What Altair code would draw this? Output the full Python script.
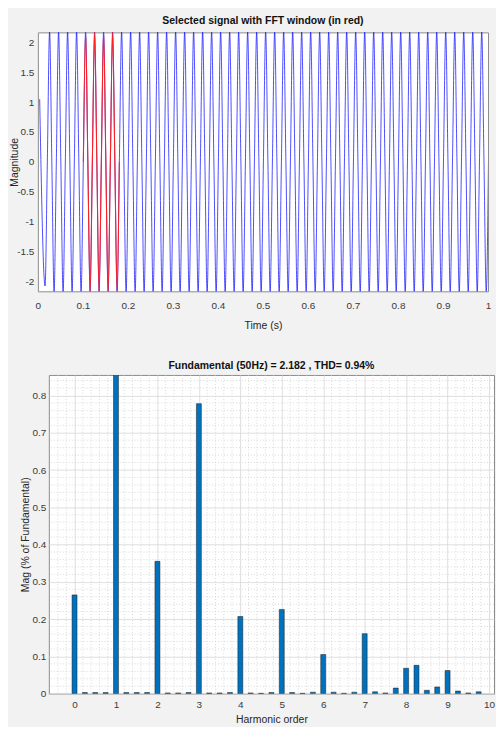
import altair as alt
import pandas as pd

FONT = "Liberation Sans, Arial, sans-serif"

# ---------------- data ----------------
# top panel: 50 Hz signal, amplitude 2.182
SIG_START_T = 0.004
SIG_START_V = 1.05
FIRST_TROUGH_T = 0.016
FIRST_TROUGH_V = -2.08
CYCLE_START_T = 0.021          # first rising zero crossing after the initial trough
QUARTER_PERIOD = 0.005
CYCLE_SHAPE = [0.0, 2.182, 0.0, -2.182]   # zero, peak, zero, trough
N_CYCLES = 49
SIG_END_T = 1.001
WINDOW_START = 0.10
WINDOW_END = 0.182

TIME_TICKS = [0, 0.1, 0.2, 0.3, 0.4, 0.5, 0.6, 0.7, 0.8, 0.9, 1]
MAG_TICKS = [-2, -1.5, -1, -0.5, 0, 0.5, 1, 1.5, 2]

# bottom panel: harmonic spectrum (% of fundamental)
HARM_ORDER = [0, 0.25, 0.5, 0.75, 1, 1.25, 1.5, 1.75, 2, 2.25, 2.5, 2.75,
              3, 3.25, 3.5, 3.75, 4, 4.25, 4.5, 4.75, 5, 5.25, 5.5, 5.75,
              6, 6.25, 6.5, 6.75, 7, 7.25, 7.5, 7.75, 8, 8.25, 8.5, 8.75,
              9, 9.25, 9.5, 9.75]
HARM_MAG = [0.265, 0.003, 0.003, 0.003, 100.0, 0.003, 0.003, 0.003,
            0.355, 0.002, 0.002, 0.003, 0.778, 0.002, 0.002, 0.003,
            0.207, 0.002, 0.001, 0.003, 0.226, 0.003, 0.001, 0.004,
            0.105, 0.004, 0.001, 0.004, 0.161, 0.005, 0.002, 0.015,
            0.068, 0.076, 0.009, 0.018, 0.062, 0.007, 0.002, 0.005]
HARM_TICKS = [0, 1, 2, 3, 4, 5, 6, 7, 8, 9, 10]
PCT_TICKS = [0, 0.1, 0.2, 0.3, 0.4, 0.5, 0.6, 0.7, 0.8]

TITLE_TOP = "Selected signal with FFT window (in red)"
TITLE_BOTTOM = "Fundamental (50Hz) = 2.182 , THD= 0.94%"

# ---------------- tables ----------------
t_vals = [SIG_START_T, FIRST_TROUGH_T]
v_vals = [SIG_START_V, FIRST_TROUGH_V]
k = 0
for c in range(N_CYCLES):
    for s in CYCLE_SHAPE:
        t_vals.append(round(CYCLE_START_T + k * QUARTER_PERIOD, 4))
        v_vals.append(s)
        k += 1
t_vals.append(SIG_END_T)
v_vals.append(0.0)
sig_df = pd.DataFrame({"t": t_vals, "v": v_vals})
win_df = sig_df[(sig_df.t >= WINDOW_START) & (sig_df.t <= WINDOW_END)]

harm_df = pd.DataFrame({"h": HARM_ORDER, "m": HARM_MAG})
minor_x = pd.DataFrame({"h": [round(i * 0.2, 2) for i in range(-2, 50) if i % 5 != 0]})
minor_y = pd.DataFrame({"m": [round(i * 0.02, 3) for i in range(1, 43) if i % 5 != 0]})

common = dict(labelFont=FONT, titleFont=FONT, labelColor="#3a3a3a", titleColor="#262626",
              labelFontSize=10, titleFontSize=10.5, titleFontWeight="normal",
              ticks=False, tickSize=0, domain=False,
              labelOverlap=False, labelExpr="'' + datum.value")

TOP_H = 260
BOT_H = 320

# ---------------- top panel ----------------
x_top = alt.X("t:Q", scale=alt.Scale(domain=[0, 1], nice=False, zero=False),
              axis=alt.Axis(values=TIME_TICKS, title="Time (s)", grid=False,
                            labelFlush=False, labelPadding=9, titlePadding=10, **common))
y_top = alt.Y("v:Q", scale=alt.Scale(domain=[-2.17, 2.17], nice=False, zero=False),
              axis=alt.Axis(values=MAG_TICKS, title="Magnitude", grid=False,
                            labelFlush=False, labelPadding=4, minExtent=20, maxExtent=20,
                            titleX=-18.5, titleY=TOP_H / 2, **common))

blue = alt.Chart(sig_df).mark_line(color="#0000FF", strokeWidth=1, opacity=0.7,
                                   interpolate="monotone", clip=True).encode(x=x_top, y=y_top)
red = alt.Chart(win_df).mark_line(color="#FF2020", strokeWidth=1.1, opacity=1,
                                  interpolate="monotone", clip=True).encode(x=x_top, y=y_top)

top = alt.layer(blue, red).properties(
    width=452, height=TOP_H,
    title=alt.TitleParams(TITLE_TOP, font=FONT, fontSize=10.5, fontWeight="bold",
                          color="#111111", offset=6, anchor="middle", frame="group"))

# ---------------- bottom panel ----------------
x_scale_b = alt.Scale(domain=[-0.5, 10], nice=False, zero=False)
y_scale_b = alt.Scale(domain=[0, 0.855], nice=False, zero=True)
x_axis_b = alt.Axis(values=HARM_TICKS, title="Harmonic order", grid=True,
                    gridColor="#d6d6d6", gridWidth=0.8, labelFlush=True,
                    labelPadding=6, titlePadding=5, **common)
y_axis_b = alt.Axis(values=PCT_TICKS, title="Mag (% of Fundamental)", grid=True,
                    gridColor="#d6d6d6", gridWidth=0.8, labelFlush=False,
                    labelPadding=3, minExtent=39, maxExtent=39,
                    titleX=-18, titleY=BOT_H / 2, **common)
x_b = alt.X("h:Q", scale=x_scale_b, axis=x_axis_b)
y_b = alt.Y("m:Q", scale=y_scale_b, axis=y_axis_b)

grid_x_minor = alt.Chart(minor_x).mark_rule(color="#c8c8c8", strokeWidth=0.7,
                                            strokeDash=[1, 2]).encode(x=x_b)
grid_y_minor = alt.Chart(minor_y).mark_rule(color="#c8c8c8", strokeWidth=0.7,
                                            strokeDash=[1, 2]).encode(y=y_b)

bars = alt.Chart(harm_df).mark_bar(size=5, color="#0072BD", stroke="#1c1c1c",
                                   strokeWidth=0.5, clip=True).encode(x=x_b, y=y_b)

bottom = alt.layer(grid_x_minor, grid_y_minor, bars).properties(
    width=447, height=BOT_H,
    title=alt.TitleParams(TITLE_BOTTOM, font=FONT, fontSize=10.5, fontWeight="bold",
                          color="#111111", offset=3, anchor="middle", frame="group"))


def spacer():
    return alt.Chart(pd.DataFrame({"s": [0]})).mark_point(
        size=0, opacity=0, filled=True, strokeWidth=0
    ).encode(x=alt.value(0), y=alt.value(0)).properties(
        width=1, height=1, view=alt.ViewBackground(strokeOpacity=0, fillOpacity=0))


# a thin spacer in front of each panel so each panel keeps its own left offset
chart = alt.vconcat(alt.hconcat(spacer(), top, spacing=0),
                    alt.hconcat(spacer(), bottom, spacing=0),
                    spacing=29).properties(
    padding={"left": 0, "top": 6, "right": 0, "bottom": 0},
    background="#F2F2F2",
).configure_view(stroke="#8c8c8c", strokeWidth=1, fill="white")

chart.save("out.html", embed_options={"renderer": "svg", "actions": False})
